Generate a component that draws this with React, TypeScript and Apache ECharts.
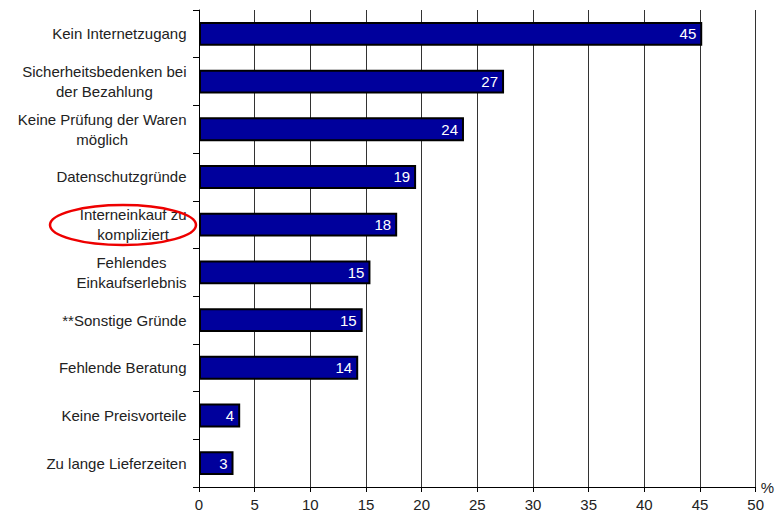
import React, { useEffect, useRef } from "react";
import * as echarts from "echarts";

const categories: string[] = [
  "Kein Internetzugang",
  "Sicherheitsbedenken bei\nder Bezahlung",
  "Keine Prüfung der Waren\nmöglich",
  "Datenschutzgründe",
  "Interneinkauf zu\nkompliziert",
  "Fehlendes\nEinkaufserlebnis",
  "**Sonstige Gründe",
  "Fehlende Beratung",
  "Keine Preisvorteile",
  "Zu lange Lieferzeiten",
];
const values: number[] = [45.2, 27.4, 23.8, 19.5, 17.8, 15.4, 14.7, 14.3, 3.7, 3.1];
const labels: string[] = ["45", "27", "24", "19", "18", "15", "15", "14", "4", "3"];
const xTicks: number[] = [0, 5, 10, 15, 20, 25, 30, 35, 40, 45, 50];

const FONT = "Liberation Sans, Arial, sans-serif";
const FS = 15;

function measure(text: string): number {
  const c = document.createElement("canvas").getContext("2d");
  if (!c) return text.length * 7.5;
  c.font = FS + "px " + FONT;
  return c.measureText(text).width;
}

export default function App() {
  const ref = useRef<HTMLDivElement>(null);
  useEffect(() => {
    if (!ref.current) return;
    const chart = echarts.init(ref.current, null, { renderer: "svg" });
    const rich: Record<string, any> = {};
    categories.forEach((c, i) => {
      const w = Math.max(...c.split("\n").map(measure)) + 1;
      rich["c" + i] = {
        width: w,
        align: "center",
        fontSize: FS,
        fontFamily: FONT,
        color: "#222",
        lineHeight: 20,
      };
    });
    chart.setOption({
      animation: false,
      grid: { left: 199, right: 18, top: 10, bottom: 30, containLabel: false },
      xAxis: {
        type: "value",
        min: xTicks[0],
        max: xTicks[xTicks.length - 1],
        interval: 5,
        name: "%",
        nameLocation: "end",
        nameGap: 5,
        nameTextStyle: { fontSize: FS, fontFamily: FONT, color: "#222", padding: [0, 0, 6, 0] },
        axisLine: { show: true, lineStyle: { color: "#000", width: 1 } },
        axisTick: { show: true, length: 5, lineStyle: { color: "#000" } },
        axisLabel: { fontSize: FS, fontFamily: FONT, color: "#222", margin: 10 },
        splitLine: { show: true, lineStyle: { color: "#333", width: 1 } },
      },
      yAxis: {
        type: "category",
        inverse: true,
        data: categories,
        axisLine: { show: true, lineStyle: { color: "#000", width: 1 } },
        axisTick: { show: true, length: 6, lineStyle: { color: "#000" } },
        axisLabel: {
          margin: 12,
          formatter: (v: string) => {
            const i = categories.indexOf(v);
            return v
              .split("\n")
              .map((l) => "{c" + i + "|" + l + "}")
              .join("\n");
          },
          rich,
        },
      },
      series: [
        {
          type: "bar",
          data: values,
          barWidth: "50%",
          itemStyle: { color: "#00009c", borderColor: "#000", borderWidth: 2 },
          label: {
            show: true,
            position: "insideRight",
            distance: 6,
            color: "#fff",
            fontSize: FS,
            fontFamily: FONT,
            formatter: (p: any) => labels[p.dataIndex],
          },
        },
      ],
      graphic: [
        {
          type: "ellipse",
          shape: { cx: 123, cy: 225, rx: 73, ry: 20 },
          style: { fill: "none", stroke: "#ee0000", lineWidth: 2.5 },
          z: 100,
        },
      ],
    });
    return () => chart.dispose();
  }, []);
  return (
    <div
      ref={ref}
      style={{ position: "fixed", left: 0, top: 0, width: 777, height: 517, background: "#fff" }}
    />
  );
}
